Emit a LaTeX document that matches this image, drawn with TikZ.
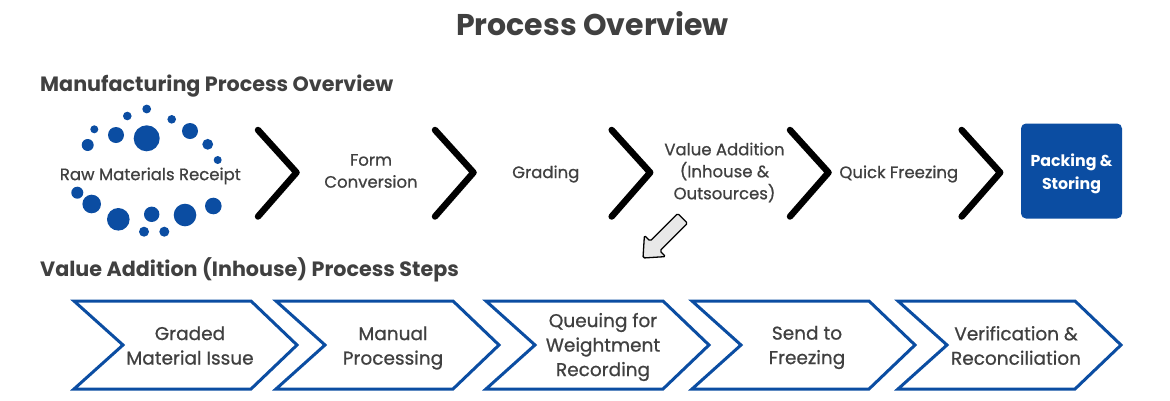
\documentclass[tikz,border=0pt]{standalone}
\usepackage{fontspec}
\setmainfont{Poppins}
\newfontfamily\medfont{Poppins}[FakeBold=0.8]
\definecolor{pblue}{RGB}{11,77,162}
\definecolor{ptext}{RGB}{64,64,64}
\definecolor{pgray}{RGB}{232,232,232}
\begin{document}
\begin{tikzpicture}[x=1pt,y=-1pt,
  title/.style={font=\bfseries\fontsize{30}{34}\selectfont, text=ptext, inner sep=0pt},
  subtitle/.style={font=\bfseries\fontsize{20.7}{24}\selectfont, text=ptext, inner sep=0pt, anchor=west},
  toptext/.style={font=\medfont\fontsize{16.5}{22}\selectfont, text=ptext, align=center, inner sep=0pt},
  bottext/.style={font=\medfont\fontsize{18.5}{24.5}\selectfont, text=ptext, align=center, inner sep=0pt},
  dot/.style={fill=pblue, draw=none},
  sep/.style={draw=black, line width=6.5pt, line cap=round, line join=round},
  stepshape/.style={draw=pblue, line width=3pt, fill=white, line join=miter},
  packbox/.style={fill=pblue, draw=none, rounded corners=5pt, minimum width=101pt, minimum height=95pt,
    font=\bfseries\fontsize{15.8}{23}\selectfont, text=white, align=center},
  bigarrow/.style={fill=pgray, draw=black, line width=1.3pt, line join=round, rounded corners=1.5pt}
]
\useasboundingbox (0,0) rectangle (1170,400);
\fill[white] (0,0) rectangle (1170,400);

% titles
\node[title] (title) at (592.5,24) {Process Overview};
\node[subtitle] (sub1) at (40,86) {Manufacturing Process Overview};
\node[subtitle] (sub2) at (40,270) {Value Addition (Inhouse) Process Steps};

% dots ring
\foreach \x/\y/\r in {146.7/109/4.4, 127.3/116/4.3, 171.7/119.3/4.3, 94.3/129.3/4, 116/135/8,
  146.7/138.3/13, 190/131/8, 87.7/145/6, 207.7/144.3/5.4, 217.7/160/4,
  77.3/192.7/6, 91.7/204/9.3, 118.3/219.3/11.3, 151.7/214.3/7.7, 185/215/11.3,
  213.3/206/8.3, 144/231.7/5, 164.3/231.7/5}
  \fill[dot] (\x,\y) circle[radius=\r];

% top texts
\node[toptext] (raw) at (150.3,176) {Raw Materials Receipt};
\node[toptext] (form) at (371,171) {Form\\Conversion};
\node[toptext] (grad) at (545.8,174) {Grading};
\node[toptext] (vadd) at (724.5,172.5) {Value Addition\\(Inhouse \&\\Outsources)};
\node[toptext] (quick) at (898.8,174) {Quick Freezing};
\node[packbox] (pack) at (1071.5,171) {};
\node[font=\bfseries\fontsize{15.8}{23}\selectfont, text=white, align=center, inner sep=0pt] (packtext) at (1071.5,174) {Packing \&\\Storing};

% black separators
\foreach \sx in {258,435,611.7,790,961.7}
  \draw[sep] (\sx,130) -- ({\sx+38.5},172.5) -- (\sx,216.5);

% gray arrow
\draw[bigarrow] (643,258) -- (665.6,256.6) -- (659.9,250.9) -- (687.5,223.3)
  -- (677.7,213.5) -- (650.1,241.1) -- (644.4,235.4) -- cycle;
\coordinate (arrowtip) at (643,258);

% bottom chevrons
\foreach \sx/\nm in {74/s1,276/s2,486/s3,692/s4,898/s5}
  \draw[stepshape] (\sx,301) -- ({\sx+177},301) -- ({\sx+223},345) -- ({\sx+177},389)
    -- (\sx,389) -- ({\sx+49},345) -- cycle;

\node[bottext] (b1) at (190,345.5) {Graded\\Material Issue};
\node[bottext] (b2) at (393,348) {Manual\\Processing};
\node[bottext] (b3) at (603,347) {Queuing for\\Weightment\\Recording};
\node[bottext] (b4) at (807,347.5) {Send to\\Freezing};
\node[bottext] (b5) at (1016,345.5) {Verification \&\\Reconciliation};
\end{tikzpicture}
\end{document}
